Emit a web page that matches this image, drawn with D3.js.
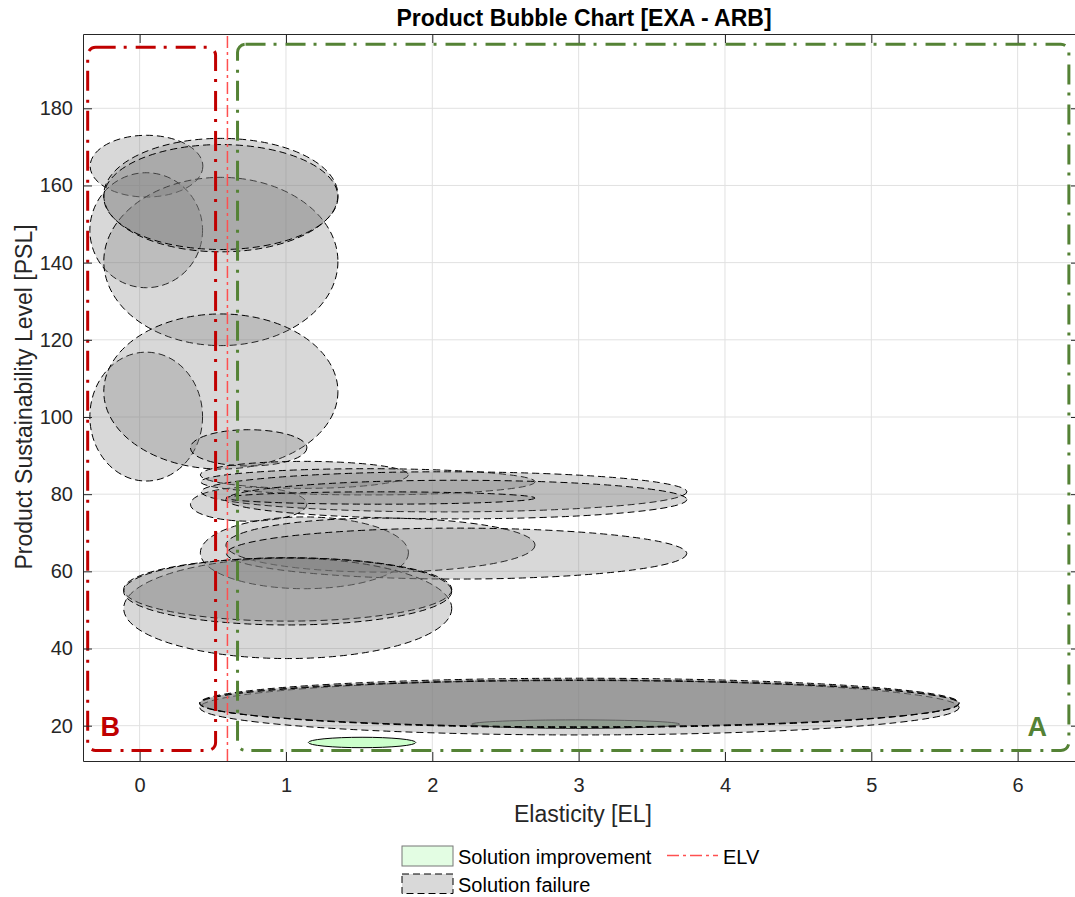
<!DOCTYPE html>
<html>
<head>
<meta charset="utf-8">
<script src="https://cdn.jsdelivr.net/npm/d3@7"></script>
<style>
  body { margin: 0; background: #fff; }
  text { font-family: 'Liberation Sans', Arial, sans-serif; fill: #262626; }
</style>
</head>
<body>
<div id="chart"></div>
<script>
// gray "solution failure" bubbles: centre (EL, PSL) and half spread on each axis
const failEL = [0.047, 0.045, 0.555, 0.555, 0.555, 0.045, 0.555, 0.745, 0.745,
  1.126, 1.560, 2.080, 2.165, 1.646, 1.126, 1.646, 2.166, 1.012, 1.012, 1.012,
  3.005, 3.005, 3.005, 3.005]
const failPSL = [165.0, 148.4, 140.3, 157.5, 157.0, 100.1, 106.6, 92.0, 77.4,
  85.0, 83.2, 80.6, 78.6, 79.0, 64.8, 66.8, 64.6, 50.4, 55.3, 54.8,
  24.7, 25.8, 25.9, 25.7]
const failSpreadEL = [0.385, 0.385, 0.8, 0.8, 0.8, 0.385, 0.8, 0.398, 0.398,
  0.711, 1.143, 1.66, 1.575, 1.056, 0.711, 1.056, 1.573, 1.121, 1.121, 1.121,
  2.595, 2.595, 2.595, 2.595]
const failSpreadPSL = [8.0, 14.9, 21.8, 14.7, 13.6, 16.7, 20.1, 4.7, 4.4,
  3.5, 3.4, 5.2, 5.0, 1.6, 9.3, 7.0, 6.6, 13.0, 8.2, 8.7,
  7.1, 6.1, 6.4, 6.0]

// green "solution improvement" bubbles
const impEL = [1.52, 2.98]
const impPSL = [15.65, 20.4]
const impSpreadEL = [0.367, 0.71]
const impSpreadPSL = [1.35, 1.1]

// ELV threshold and the two regions
const elv = 0.6
const regionNames = ['B', 'A']
const regionEL = [[-0.355, 0.519], [0.669, 6.35]]
const regionPSL = [[13.6, 195.8], [13.6, 196.6]]
const regionColors = ['#c00000', '#548235']

const xTicks = [0, 1, 2, 3, 4, 5, 6]
const yTicks = [20, 40, 60, 80, 100, 120, 140, 160, 180]

const width = 1075
const height = 897
const margin = { top: 34, left: 83, right: -5, bottom: 136 }

const svg = d3.select('#chart')
  .append('svg')
  .attr('width', width)
  .attr('height', height)

const x = d3.scaleLinear()
  .domain([-0.387, 6.426])
  .range([margin.left, width - margin.right])

const y = d3.scaleLinear()
  .domain([10.85, 199.25])
  .range([height - margin.bottom, margin.top])

svg.append('defs').append('clipPath').attr('id', 'plot-clip')
  .append('rect')
  .attr('x', x.range()[0]).attr('y', y.range()[1])
  .attr('width', x.range()[1] - x.range()[0])
  .attr('height', y.range()[0] - y.range()[1])

// grid
const grid = svg.append('g')
grid.selectAll('.gx').data(xTicks).enter().append('line')
  .attr('x1', d => x(d)).attr('x2', d => x(d))
  .attr('y1', y.range()[0]).attr('y2', y.range()[1])
  .attr('stroke', '#e1e1e1')
grid.selectAll('.gy').data(yTicks).enter().append('line')
  .attr('y1', d => y(d)).attr('y2', d => y(d))
  .attr('x1', x.range()[0]).attr('x2', x.range()[1])
  .attr('stroke', '#e1e1e1')

const plot = svg.append('g').attr('clip-path', 'url(#plot-clip)')

// improvement bubbles first (they sit under the gray ones)
plot.selectAll('.imp')
  .data(impEL.map((d, i) => ({ el: d, psl: impPSL[i], sx: impSpreadEL[i], sy: impSpreadPSL[i] })))
  .enter().append('ellipse')
  .attr('cx', d => x(d.el))
  .attr('cy', d => y(d.psl))
  .attr('rx', d => x(d.el + d.sx) - x(d.el))
  .attr('ry', d => y(d.psl) - y(d.psl + d.sy))
  .attr('fill', '#ccffcc')
  .attr('stroke', '#000')
  .attr('stroke-width', 1)

plot.selectAll('.fail')
  .data(failEL.map((d, i) => ({ el: d, psl: failPSL[i], sx: failSpreadEL[i], sy: failSpreadPSL[i] })))
  .enter().append('ellipse')
  .attr('cx', d => x(d.el))
  .attr('cy', d => y(d.psl))
  .attr('rx', d => x(d.el + d.sx) - x(d.el))
  .attr('ry', d => y(d.psl) - y(d.psl + d.sy))
  .attr('fill', 'rgba(127,127,127,0.3)')
  .attr('stroke', '#000')
  .attr('stroke-width', 1)
  .attr('stroke-dasharray', '7 4')

// regions
regionNames.forEach((name, i) => {
  plot.append('rect')
    .attr('x', x(regionEL[i][0]))
    .attr('y', y(regionPSL[i][1]))
    .attr('width', x(regionEL[i][1]) - x(regionEL[i][0]))
    .attr('height', y(regionPSL[i][0]) - y(regionPSL[i][1]))
    .attr('rx', 8).attr('ry', 8)
    .attr('fill', 'none')
    .attr('stroke', regionColors[i])
    .attr('stroke-width', 3)
    .attr('stroke-dasharray', '20 8 3 9')
})

svg.append('text')
  .attr('x', x(-0.268)).attr('y', y(17.3))
  .attr('font-size', 27).attr('font-weight', 'bold')
  .style('fill', regionColors[0])
  .text(regionNames[0])
svg.append('text')
  .attr('x', x(6.2)).attr('y', y(17.3))
  .attr('text-anchor', 'end')
  .attr('font-size', 27).attr('font-weight', 'bold')
  .style('fill', regionColors[1])
  .text(regionNames[1])

// ELV line
plot.append('line')
  .attr('x1', x(elv)).attr('x2', x(elv))
  .attr('y1', y.range()[0]).attr('y2', y.range()[1])
  .attr('stroke', '#ff5050')
  .attr('stroke-width', 1.5)
  .attr('stroke-dasharray', '12 4 3 4')

// axes
const fmt = d3.format('d')
const xAxis = svg.append('g')
  .attr('transform', `translate(0,${y.range()[0]})`)
  .call(d3.axisBottom(x).tickValues(xTicks).tickFormat(fmt).tickSizeInner(-9).tickSizeOuter(0).tickPadding(17))
const yAxis = svg.append('g')
  .attr('transform', `translate(${x.range()[0]},0)`)
  .call(d3.axisLeft(y).tickValues(yTicks).tickFormat(fmt).tickSizeInner(-9).tickSizeOuter(0).tickPadding(10))
const xTop = svg.append('g')
  .attr('transform', `translate(0,${y.range()[1]})`)
  .call(d3.axisTop(x).tickValues(xTicks).tickSizeInner(-9).tickSizeOuter(0).tickFormat(''))
const yRight = svg.append('g')
  .attr('transform', `translate(${x.range()[1]},0)`)
  .call(d3.axisRight(y).tickValues(yTicks).tickSizeInner(-9).tickSizeOuter(0).tickFormat(''))

;[xAxis, yAxis, xTop, yRight].forEach(a => {
  a.selectAll('path').attr('stroke', '#262626')
  a.selectAll('line').attr('stroke', '#262626')
  a.selectAll('text').attr('font-size', 20).style('fill', '#262626')
    .attr('font-family', "'Liberation Sans', Arial, sans-serif")
})

// title and labels
svg.append('text')
  .attr('x', 584).attr('y', 25.7)
  .attr('text-anchor', 'middle')
  .attr('font-size', 23).attr('font-weight', 'bold')
  .style('fill', '#000')
  .text('Product Bubble Chart [EXA - ARB]')

svg.append('text')
  .attr('x', 583).attr('y', 822)
  .attr('text-anchor', 'middle')
  .attr('font-size', 23)
  .text('Elasticity [EL]')

svg.append('text')
  .attr('transform', 'translate(31.5,397) rotate(-90)')
  .attr('text-anchor', 'middle')
  .attr('font-size', 23)
  .text('Product Sustainability Level [PSL]')

// legend
const legend = svg.append('g')
legend.append('rect')
  .attr('x', 402).attr('y', 846).attr('width', 51).attr('height', 20)
  .attr('fill', '#e3fde3').attr('stroke', '#777')
legend.append('text').attr('x', 458).attr('y', 864).attr('font-size', 20)
  .style('fill', '#000').text('Solution improvement')
legend.append('rect')
  .attr('x', 402).attr('y', 874).attr('width', 51).attr('height', 19.5)
  .attr('fill', '#d9d9d9').attr('stroke', '#000').attr('stroke-dasharray', '7 4')
legend.append('text').attr('x', 458).attr('y', 892).attr('font-size', 20)
  .style('fill', '#000').text('Solution failure')
legend.append('line')
  .attr('x1', 667).attr('x2', 718).attr('y1', 855.5).attr('y2', 855.5)
  .attr('stroke', '#ff5050').attr('stroke-width', 1.5)
  .attr('stroke-dasharray', '12 4 3 4')
legend.append('text').attr('x', 723).attr('y', 864).attr('font-size', 20)
  .style('fill', '#000').text('ELV')
</script>
</body>
</html>
